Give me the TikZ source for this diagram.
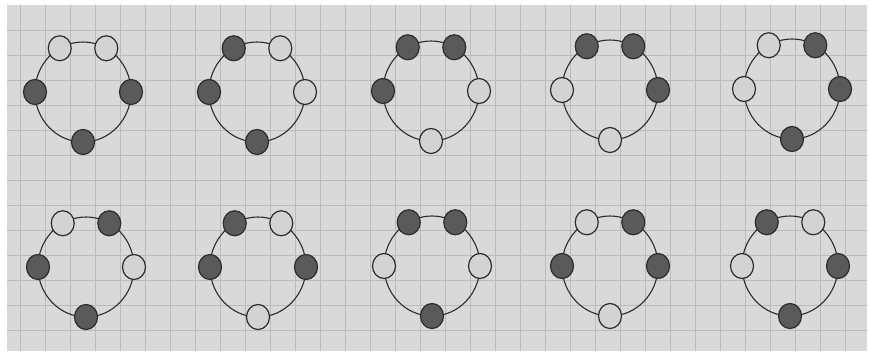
\documentclass[tikz,border=0pt]{standalone}
\usetikzlibrary{shapes.geometric}
\definecolor{paper}{HTML}{D9D9D9}
\definecolor{gridc}{HTML}{BBBBBB}
\definecolor{darkbead}{HTML}{5A5A5A}
\definecolor{lightbead}{HTML}{D3D3D3}
\definecolor{ink}{HTML}{2C2C2C}
\tikzset{
  bead/.style={ellipse, draw=ink, line width=1.2pt, minimum width=23pt, minimum height=25pt, inner sep=0pt},
  dk/.style={bead, fill=darkbead},
  lt/.style={bead, fill=lightbead},
  ring/.style={draw=ink, line width=1.1pt},
  gridline/.style={draw=gridc, line width=0.9pt},
}
\newcommand{\necklace}[8]{%
  \begin{scope}[shift={(#2,-#3)}]
    \draw[ring] (0,0) ellipse [x radius=48pt, y radius=50pt];
    \node[#4] (#1a) at (119:48pt and 50pt) {};
    \node[#5] (#1b) at (61:48pt and 50pt) {};
    \node[#6] (#1c) at (0:48pt and 50pt) {};
    \node[#7] (#1d) at (270:48pt and 50pt) {};
    \node[#8] (#1e) at (180:48pt and 50pt) {};
  \end{scope}}
\begin{document}
\begin{tikzpicture}[x=1pt,y=1pt]
  \useasboundingbox (0,0) rectangle (870,-354);
  \fill[white] (0,0) rectangle (870,-354);
  \fill[paper] (7,-5) rectangle (867,-351);
  \foreach \x in {20,45,...,845} \draw[gridline] (\x,-5) -- (\x,-351);
  \foreach \y in {30,55,...,330} \draw[gridline] (7,-\y) -- (867,-\y);
  % row 1
  \necklace{pa}{83}{92}{lt}{lt}{dk}{dk}{dk}
  \necklace{pb}{257}{92}{dk}{lt}{lt}{dk}{dk}
  \necklace{pc}{431}{91}{dk}{dk}{lt}{lt}{dk}
  \necklace{pd}{610}{90}{dk}{dk}{dk}{lt}{lt}
  \necklace{pe}{792}{89}{lt}{dk}{dk}{dk}{lt}
  % row 2
  \necklace{qa}{86}{267}{lt}{dk}{lt}{dk}{dk}
  \necklace{qb}{258}{267}{dk}{lt}{dk}{lt}{dk}
  \necklace{qc}{432}{266}{dk}{dk}{lt}{dk}{lt}
  \necklace{qd}{610}{266}{lt}{dk}{dk}{lt}{dk}
  \necklace{qe}{790}{266}{dk}{lt}{dk}{dk}{lt}
\end{tikzpicture}
\end{document}
